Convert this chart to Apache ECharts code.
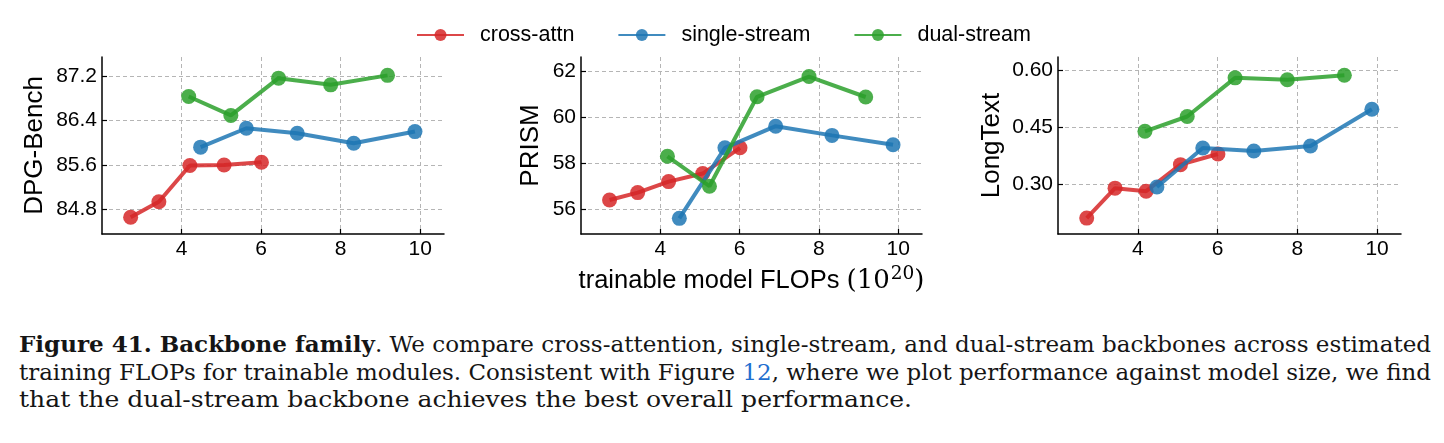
<!DOCTYPE html>
<html>
<head>
<meta charset="utf-8">
<script src="https://cdn.jsdelivr.net/npm/echarts@6/dist/echarts.min.js"></script>
<style>
  html, body { margin: 0; padding: 0; background: #fff; }
  #wrap { position: relative; width: 1444px; height: 443px; overflow: hidden; background: #fff; }
  #chart { position: absolute; left: 0; top: 0; width: 1444px; height: 300px; }
  .cap { position: absolute; left: 19px; white-space: nowrap; font-family: 'DejaVu Serif', serif;
         font-size: 22.5px; line-height: 24px; color: #151515; transform-origin: 0 0; }
  .cap b { font-weight: bold; }
  .cap .ref { color: #1f6fd0; }
</style>
</head>
<body>
<div id="wrap">
  <div id="chart"></div>
  <div class="cap" id="c1" data-w="1412" style="top:332px"><b>Figure 41. Backbone family</b>. We compare cross-attention, single-stream, and dual-stream backbones across estimated</div>
  <div class="cap" id="c2" data-w="1412" style="top:360px">training FLOPs for trainable modules. Consistent with Figure <span class="ref">12</span>, where we plot performance against model size, we find</div>
  <div class="cap" id="c3" data-w="893" style="top:387px">that the dual-stream backbone achieves the best overall performance.</div>
</div>
<script>
// ---- data ----
const seriesNames = ['cross-attn', 'single-stream', 'dual-stream'];
const seriesColors = ['#d62728', '#1f77b4', '#2ca02c'];

// trainable model FLOPs (1e20)
const xCross  = [2.72, 3.43, 4.21, 5.07, 6.01];
const xSingle = [4.48, 5.63, 6.91, 8.33, 9.87];
const xDual   = [4.18, 5.24, 6.44, 7.75, 9.18];

// DPG-Bench
const dpgCross  = [84.66, 84.94, 85.59, 85.60, 85.65];
const dpgSingle = [85.92, 86.26, 86.17, 85.99, 86.20];
const dpgDual   = [86.83, 86.49, 87.16, 87.04, 87.21];

// PRISM
const prismCross  = [56.39, 56.71, 57.19, 57.54, 58.66];
const prismSingle = [55.59, 58.66, 59.60, 59.20, 58.79];
const prismDual   = [58.29, 56.99, 60.88, 61.76, 60.87];

// LongText
const longCross  = [0.210, 0.289, 0.281, 0.351, 0.379];
const longSingle = [0.292, 0.395, 0.387, 0.400, 0.497];
const longDual   = [0.439, 0.478, 0.580, 0.575, 0.587];

// tick values
const xTicks = [4, 6, 8, 10];
const dpgTicks = [84.8, 85.6, 86.4, 87.2];
const prismTicks = [56, 58, 60, 62];
const longTicks = [0.30, 0.45, 0.60];

const panelTitles = ['DPG-Bench', 'PRISM', 'LongText'];
const xTitle = 'trainable model FLOPs ';

// ---- layout ----
const SANS = "'Liberation Sans', Arial, Helvetica, sans-serif";
const panels = [
  { left: 102, width: 342, ymin: 84.36, ymax: 87.54, ticks: dpgTicks, dec: 1, nameGap: 54,
    ys: [dpgCross, dpgSingle, dpgDual] },
  { left: 581, width: 341, ymin: 54.91, ymax: 62.61, ticks: prismTicks, dec: 0, nameGap: 37,
    ys: [prismCross, prismSingle, prismDual] },
  { left: 1058, width: 343, ymin: 0.168, ymax: 0.635, ticks: longTicks, dec: 2, nameGap: 53,
    ys: [longCross, longSingle, longDual] }
];
const xsAll = [xCross, xSingle, xDual];

const grid = [], xAxis = [], yAxis = [], series = [];
panels.forEach((p, i) => {
  grid.push({ left: p.left, top: 57, width: p.width, height: 177, containLabel: false });
  const axisCommon = {
    axisLine: { show: true, onZero: false, lineStyle: { color: '#000', width: 1.5 } },
    axisTick: { show: true, inside: true, length: 5, lineStyle: { color: '#000', width: 1.2 } },
    splitLine: { show: true, lineStyle: { color: '#b5b5b5', width: 1, type: [4, 3] } }
  };
  xAxis.push(Object.assign({
    type: 'value', gridIndex: i, min: 2.0, max: 10.6,
    axisLabel: { customValues: xTicks, color: '#000', fontSize: 21, fontFamily: SANS, margin: 5,
                 formatter: v => String(v) },
    name: i === 1 ? '{s|' + xTitle + '}{m|(10}{p|20}{m|)}' : '',
    nameLocation: 'middle', nameGap: 12,
    nameTextStyle: {
      rich: {
        s: { fontFamily: SANS, fontSize: 25.5, color: '#000' },
        m: { fontFamily: "'DejaVu Serif', serif", fontSize: 26, color: '#000' },
        p: { fontFamily: "'DejaVu Serif', serif", fontSize: 18.5, color: '#000', padding: [0, 0, 13, 1] }
      }
    }
  }, axisCommon, { axisTick: Object.assign({}, axisCommon.axisTick, { customValues: xTicks }) }));
  yAxis.push(Object.assign({
    type: 'value', gridIndex: i, min: p.ymin, max: p.ymax,
    axisLabel: { customValues: p.ticks, color: '#000', fontSize: 21, fontFamily: SANS, margin: 5,
                 formatter: v => v.toFixed(p.dec) },
    name: panelTitles[i], nameLocation: 'middle', nameGap: p.nameGap, nameRotate: 90,
    nameTextStyle: { fontFamily: SANS, fontSize: 26, color: '#000' }
  }, axisCommon, { axisTick: Object.assign({}, axisCommon.axisTick, { customValues: p.ticks }) }));
  seriesNames.forEach((nm, k) => {
    series.push({
      type: 'line', name: nm, xAxisIndex: i, yAxisIndex: i,
      data: xsAll[k].map((x, j) => [x, p.ys[k][j]]),
      symbol: 'circle', symbolSize: 15, showSymbol: true,
      lineStyle: { width: 4, color: seriesColors[k], opacity: 0.85 },
      itemStyle: { color: seriesColors[k], opacity: 0.85 },
      emphasis: { disabled: true },
      animation: false, z: 2 + k
    });
  });
});

const chart = echarts.init(document.getElementById('chart'), null, { renderer: 'canvas' });
chart.setOption({
  animation: false,
  color: seriesColors,
  legend: {
    data: seriesNames, left: 416, top: 24, padding: 0,
    itemWidth: 47, itemHeight: 15, itemGap: 43,
    textStyle: { fontFamily: SANS, fontSize: 21.5, color: '#000', padding: [0, 0, 0, 11] }
  },
  grid, xAxis, yAxis, series
});

function fitCaps() {
  document.querySelectorAll('.cap').forEach(el => {
    el.style.transform = 'none';
    const w = el.getBoundingClientRect().width;
    const target = +el.dataset.w;
    el.style.transform = 'scaleX(' + (target / w) + ')';
  });
}
fitCaps();
if (document.fonts && document.fonts.ready) document.fonts.ready.then(fitCaps);
</script>
</body>
</html>
